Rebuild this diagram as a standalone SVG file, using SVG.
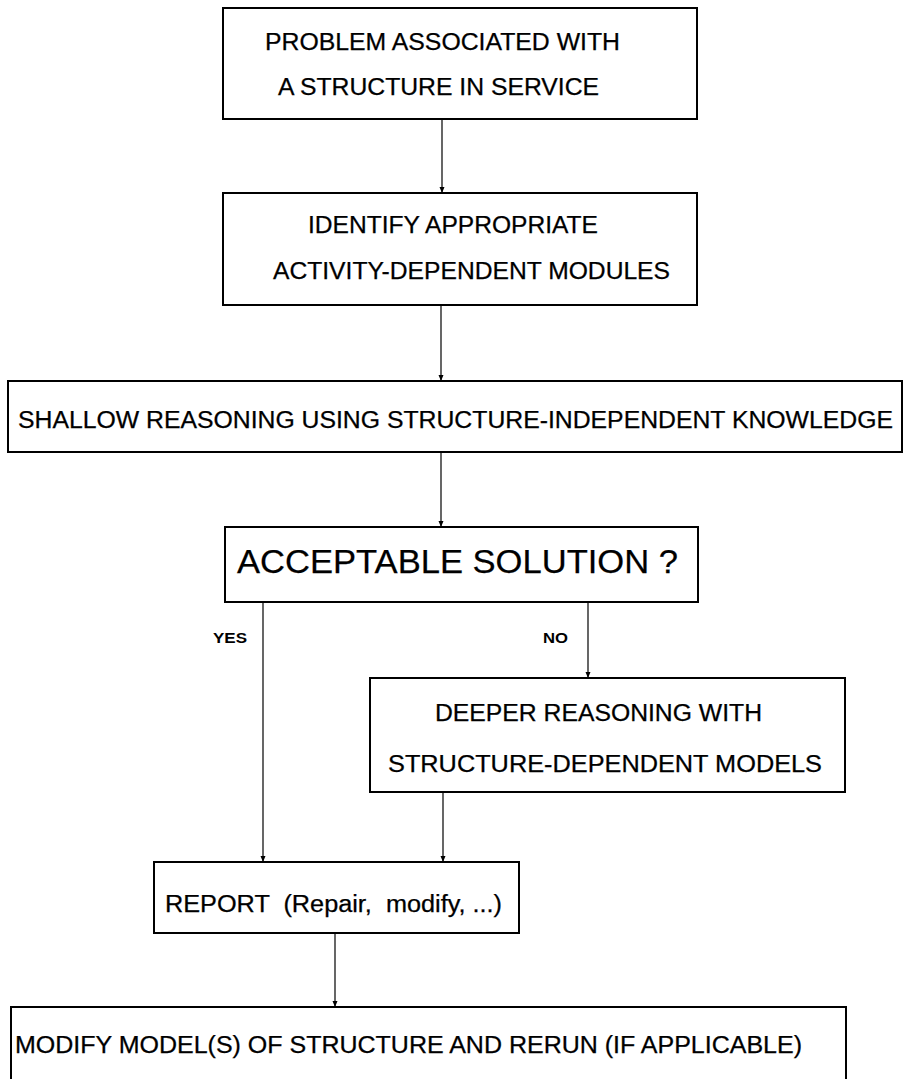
<svg xmlns="http://www.w3.org/2000/svg" width="905" height="1079" viewBox="0 0 905 1079">
<style>
.box{fill:#fff;stroke:#000;stroke-width:2}
.t{font-family:"Liberation Sans",Arial,sans-serif;fill:#000;font-size:23px;stroke:#000;stroke-width:0.25}
.big{font-size:34px}
.lbl{font-family:"Liberation Sans",Arial,sans-serif;fill:#000;font-size:14px;font-weight:bold}
.c{fill:none;stroke:#000;stroke-width:1.2}
</style>
<defs>
<marker id="ah" viewBox="0 0 6 6" refX="6" refY="3" markerWidth="6" markerHeight="6" markerUnits="userSpaceOnUse" orient="auto">
<path d="M0,0.5 L6,3 L0,5.5 Z" fill="#000"/>
</marker>
</defs>
<rect width="905" height="1079" fill="#fff"/>
<g id="connectors">
<line class="c" x1="442" y1="119" x2="442" y2="193" marker-end="url(#ah)"/>
<line class="c" x1="441" y1="305" x2="441" y2="381" marker-end="url(#ah)"/>
<line class="c" x1="441" y1="452" x2="441" y2="527" marker-end="url(#ah)"/>
<line class="c" x1="263" y1="602" x2="263" y2="862" marker-end="url(#ah)"/>
<line class="c" x1="588" y1="602" x2="588" y2="678" marker-end="url(#ah)"/>
<line class="c" x1="443" y1="792" x2="443" y2="862" marker-end="url(#ah)"/>
<line class="c" x1="335" y1="933" x2="335" y2="1007" marker-end="url(#ah)"/>
<text class="lbl" x="213" y="643" textLength="34" lengthAdjust="spacingAndGlyphs">YES</text>
<text class="lbl" x="543" y="643" textLength="25" lengthAdjust="spacingAndGlyphs">NO</text>
</g>
<g id="problem">
<rect class="box" x="223" y="8" width="474" height="111"/>
<text class="t" x="265" y="50" textLength="355" lengthAdjust="spacingAndGlyphs">PROBLEM ASSOCIATED WITH</text>
<text class="t" x="278" y="95" textLength="321" lengthAdjust="spacingAndGlyphs">A STRUCTURE IN SERVICE</text>
</g>
<g id="identify">
<rect class="box" x="223" y="193" width="474" height="112"/>
<text class="t" x="308" y="233" textLength="290" lengthAdjust="spacingAndGlyphs">IDENTIFY APPROPRIATE</text>
<text class="t" x="273" y="279" textLength="397" lengthAdjust="spacingAndGlyphs">ACTIVITY-DEPENDENT MODULES</text>
</g>
<g id="shallow">
<rect class="box" x="8" y="381" width="894" height="71"/>
<text class="t" x="18" y="428" font-size="25" textLength="875" lengthAdjust="spacingAndGlyphs">SHALLOW REASONING USING STRUCTURE-INDEPENDENT KNOWLEDGE</text>
</g>
<g id="acceptable">
<rect class="box" x="225" y="527" width="473" height="75"/>
<text class="t big" x="237" y="573" textLength="441" lengthAdjust="spacingAndGlyphs">ACCEPTABLE SOLUTION ?</text>
</g>
<g id="deeper">
<rect class="box" x="370" y="678" width="475" height="114"/>
<text class="t" x="435" y="721" textLength="327" lengthAdjust="spacingAndGlyphs">DEEPER REASONING WITH</text>
<text class="t" x="388" y="772" textLength="434" lengthAdjust="spacingAndGlyphs">STRUCTURE-DEPENDENT MODELS</text>
</g>
<g id="report">
<rect class="box" x="154" y="862" width="365" height="71"/>
<text class="t" x="165" y="912" textLength="337" lengthAdjust="spacingAndGlyphs" style="white-space:pre" xml:space="preserve">REPORT  (Repair,  modify, ...)</text>
</g>
<g id="modify">
<rect class="box" x="11" y="1007" width="835" height="80"/>
<text class="t" x="15" y="1053" font-size="25" textLength="787" lengthAdjust="spacingAndGlyphs">MODIFY MODEL(S) OF STRUCTURE AND RERUN (IF APPLICABLE)</text>
</g>
</svg>
